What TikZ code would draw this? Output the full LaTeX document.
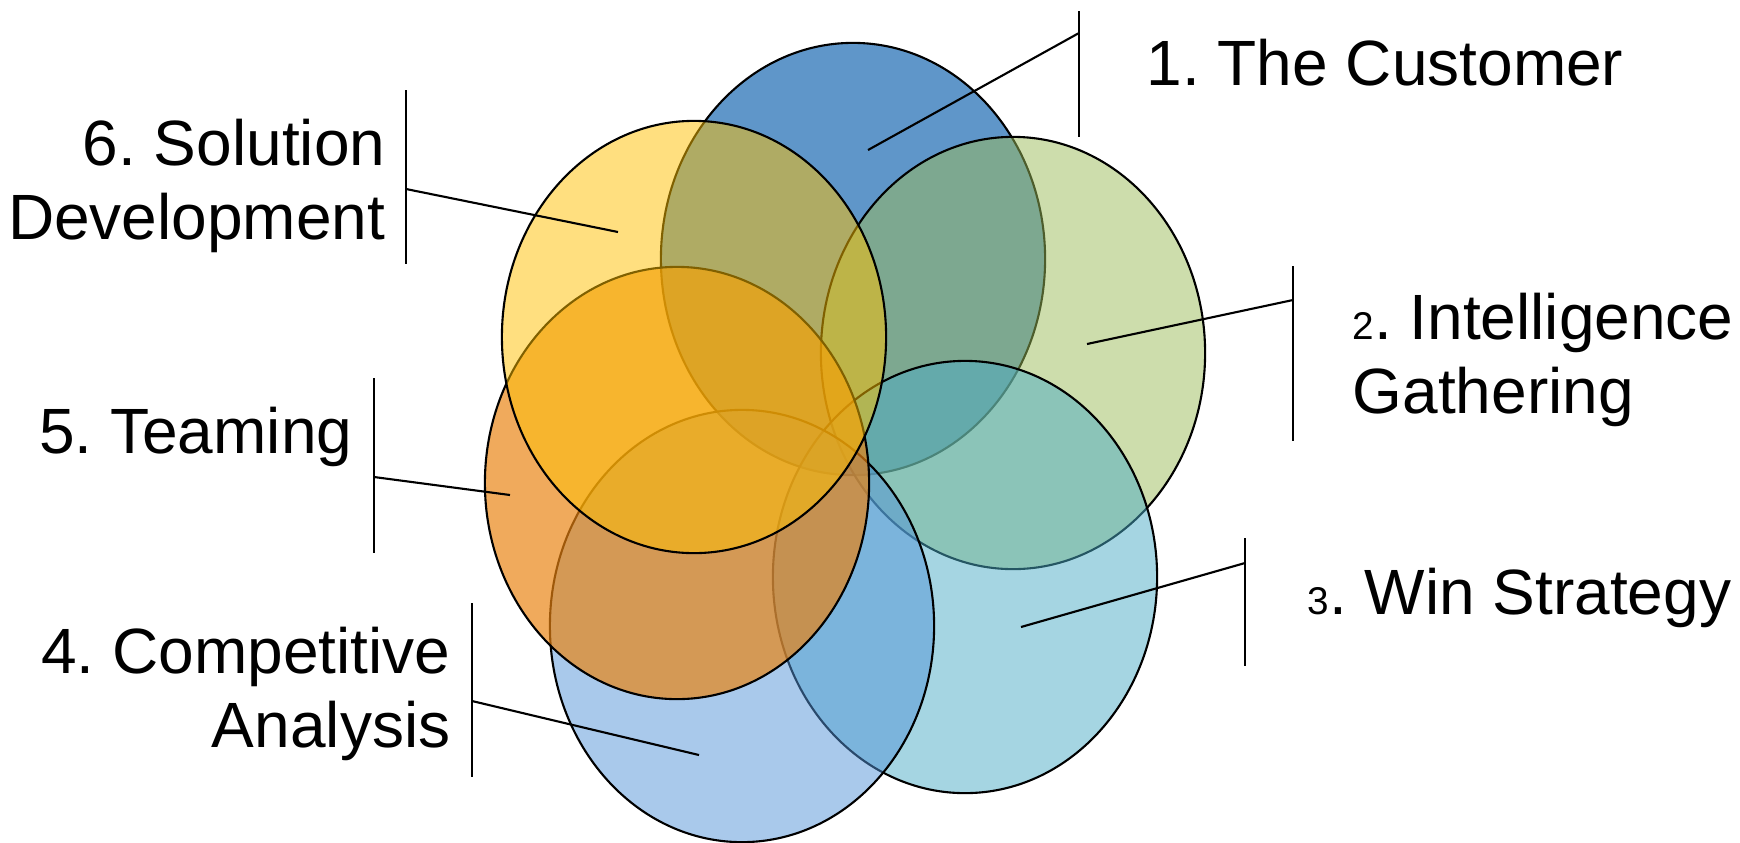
\documentclass[tikz,border=0pt]{standalone}
\usepackage{fontspec}
\setmainfont{Liberation Sans}
\usetikzlibrary{shapes.geometric}

\definecolor{custblue}{RGB}{27,106,178}
\definecolor{intelgreen}{RGB}{155,187,89}
\definecolor{wincyan}{RGB}{75,172,198}
\definecolor{compblue}{RGB}{83,147,215}
\definecolor{teamorange}{RGB}{233,130,15}
\definecolor{solyellow}{RGB}{255,192,0}

\newcommand{\smalldigit}[1]{{\fontsize{11}{12}\selectfont #1}}
\frenchspacing

\begin{document}
\begin{tikzpicture}[
    x=0.01cm, y=-0.01cm,
    petal/.style={ellipse, draw=black, line width=0.6pt, inner sep=0pt,
                  minimum width=3.84cm, minimum height=4.32cm},
    lbl/.style={font=\fontsize{18.2}{20.8}\selectfont, inner sep=0pt},
    leader/.style={line width=0.6pt}
  ]
    \useasboundingbox (0,0) rectangle (1740,842);
    % overlapping petals, drawn in order 1..6
    \node[petal, fill=custblue, fill opacity=.7] (cust) at (853,259) {};
    \node[petal, fill=intelgreen, fill opacity=.5] (intel) at (1013,353) {};
    \node[petal, fill=wincyan, fill opacity=.5] (win) at (965,577) {};
    \node[petal, fill=compblue, fill opacity=.5] (comp) at (742,626) {};
    \node[petal, fill=teamorange, fill opacity=.68] (team) at (677,483) {};
    \node[petal, fill=solyellow, fill opacity=.5] (sol) at (694,337) {};

    % labels (two-line labels sit on their last baseline)
    \node[lbl, anchor=base west] (custtxt) at (1146,85) {1. The Customer};
    \node[lbl, anchor=base west, align=left] (inteltxt) at (1352,413) {\smalldigit{2}. Intelligence\\Gathering};
    \node[lbl, anchor=base west] (wintxt) at (1307,614) {\smalldigit{3}. Win Strategy};
    \node[lbl, anchor=base east, align=right] (comptxt) at (451,747) {4. Competitive\\Analysis};
    \node[lbl, anchor=base east] (teamtxt) at (353,453) {5. Teaming};
    \node[lbl, anchor=base east, align=right] (soltxt) at (386,239) {6. Solution\\Development};

    % leader lines
    \coordinate (cust-in) at (868,150);  \coordinate (cust-bar) at (1079,33);
    \coordinate (cust-top) at (1079,11); \coordinate (cust-bot) at (1079,137);
    \coordinate (intel-in) at (1087,344);  \coordinate (intel-bar) at (1293,300);
    \coordinate (intel-top) at (1293,266); \coordinate (intel-bot) at (1293,441);
    \coordinate (win-in) at (1021,627);  \coordinate (win-bar) at (1245,563);
    \coordinate (win-top) at (1245,538); \coordinate (win-bot) at (1245,666);
    \coordinate (comp-in) at (699,755);  \coordinate (comp-bar) at (472,701);
    \coordinate (comp-top) at (472,603); \coordinate (comp-bot) at (472,777);
    \coordinate (team-in) at (510,495);  \coordinate (team-bar) at (374,477);
    \coordinate (team-top) at (374,378); \coordinate (team-bot) at (374,553);
    \coordinate (sol-in) at (618,232);  \coordinate (sol-bar) at (406,189);
    \coordinate (sol-top) at (406,90);  \coordinate (sol-bot) at (406,264);

    \foreach \p in {cust,intel,win,comp,team,sol}{
      \draw[leader] (\p-in) -- (\p-bar);
      \draw[leader] (\p-top) -- (\p-bot);
    }
  \end{tikzpicture}
\end{document}
